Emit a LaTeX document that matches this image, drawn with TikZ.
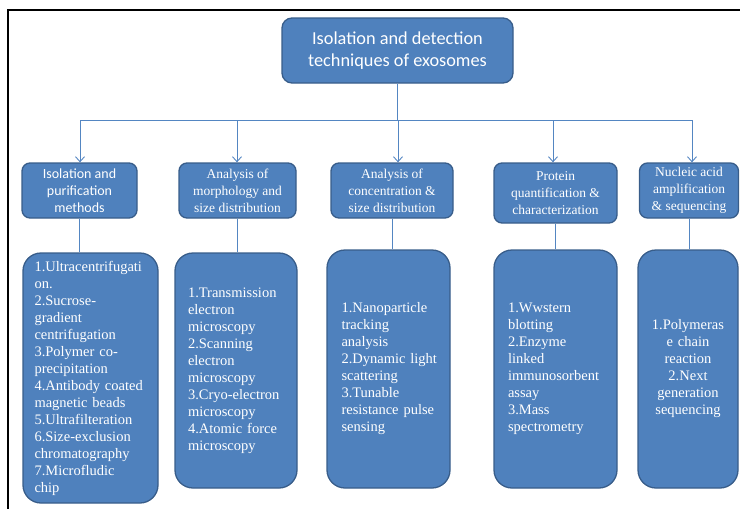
\documentclass[tikz,border=0pt]{standalone}
\usepackage{fontspec}
\setmainfont{Liberation Serif}
\newfontfamily\calibri{Carlito}
\usetikzlibrary{arrows.meta}
\definecolor{boxfill}{RGB}{79,129,189}
\definecolor{boxedge}{RGB}{56,93,138}
\definecolor{conn}{RGB}{84,134,194}
\begin{document}
\begin{tikzpicture}[x=1pt,y=-1pt,
  rootbox/.style={draw=boxedge,fill=boxfill,line width=1.3pt,rounded corners=10pt,
    text=white,inner sep=0pt,align=center,font=\calibri\fontsize{18.3}{22}\selectfont},
  headbox/.style={draw=boxedge,fill=boxfill,line width=1.3pt,rounded corners=8pt,
    text=white,inner sep=0pt,align=center,font=\fontsize{13.5}{17}\selectfont},
  listbox/.style={draw=boxedge,fill=boxfill,line width=1.3pt,rounded corners=18pt,
    text=white,inner sep=0pt,font=\fontsize{14.5}{17}\selectfont},
  connline/.style={draw=conn,line width=0.9pt},
  arrowline/.style={connline,-{Straight Barb[length=5pt,width=9pt]}}
]
\useasboundingbox (0,0) rectangle (740,509);
% frame
\draw[line width=2pt] (8,509) -- (8,10) -- (740,10);

% root
\node[rootbox,minimum width=231pt,minimum height=65pt] (root) at (397.5,50.5)
  {Isolation and detection\\techniques of exosomes};

% level 2
\node[headbox,minimum width=115pt,minimum height=55pt,font=\calibri\fontsize{14}{17}\selectfont] (h1) at (79.5,190.5)
  {Isolation and\\purification\\methods};
\node[headbox,minimum width=117pt,minimum height=55pt] (h2) at (237.5,190.5)
  {Analysis of\\morphology and\\size distribution};
\node[headbox,minimum width=122pt,minimum height=55pt] (h3) at (392,190.5)
  {Analysis of\\concentration \&\\size distribution};
\node[headbox,minimum width=123pt,minimum height=60pt] (h4) at (555.5,193)
  {Protein\\quantification \&\\characterization};
\node[headbox,minimum width=99pt,minimum height=55pt] (h5) at (689,190.5)
  {Nucleic acid\\amplification\\\& sequencing};

% level 3
\node[listbox,minimum width=135pt,minimum height=250pt,text width=112pt,align=left] (l1) at (90.5,378)
  {1.Ultracentrifugati\\on.\\2.Sucrose-\\gradient\\centrifugation\\3.Polymer co-\\precipitation\\4.Antibody coated\\magnetic beads\\5.Ultrafilteration\\6.Size-exclusion\\chromatography\\7.Microfludic\\chip};
\node[listbox,minimum width=122pt,minimum height=235pt,text width=96pt,align=left] (l2) at (236,370.5)
  {1.Transmission\\electron\\microscopy\\2.Scanning\\electron\\microscopy\\3.Cryo-electron\\microscopy\\4.Atomic force\\microscopy};
\node[listbox,minimum width=123pt,minimum height=238pt,text width=94pt,align=left] (l3) at (388.5,369)
  {1.Nanoparticle\\tracking\\analysis\\\makebox[94pt][s]{2.Dynamic light}\\scattering\\3.Tunable\\\makebox[94pt][s]{resistance pulse}\\sensing};
\node[listbox,minimum width=123pt,minimum height=238pt,text width=95pt,align=left] (l4) at (555.5,369)
  {1.Wwstern\\blotting\\2.Enzyme\\linked\\immunosorbent\\assay\\3.Mass\\spectrometry};
\node[listbox,minimum width=100pt,minimum height=238pt,text width=90pt,align=center] (l5) at (688,369)
  {1.Polymeras\\e chain\\reaction\\2.Next\\generation\\sequencing};

% bus
\coordinate (b1) at (80,120);
\coordinate (b2) at (237,120);
\coordinate (b3) at (398,120);
\coordinate (b4) at (553,120);
\coordinate (b5) at (692,120);
\draw[connline] (root.south) -- (root.south |- b3);
\draw[connline] (b1) -- (b5);
\draw[arrowline] (b1) -- (b1 |- h1.north);
\draw[arrowline] (b2) -- (b2 |- h2.north);
\draw[arrowline] (b3) -- (b3 |- h3.north);
\draw[arrowline] (b4) -- (b4 |- h4.north);
\draw[arrowline] (b5) -- (b5 |- h5.north);

% level 2 to level 3
\draw[connline] (h1.south) -- (h1.south |- l1.north);
\draw[connline] (h2.south) -- (h2.south |- l2.north);
\draw[connline] (h3.south) -- (h3.south |- l3.north);
\draw[connline] (h4.south) -- (h4.south |- l4.north);
\draw[connline] (h5.south) -- (h5.south |- l5.north);
\end{tikzpicture}
\end{document}
